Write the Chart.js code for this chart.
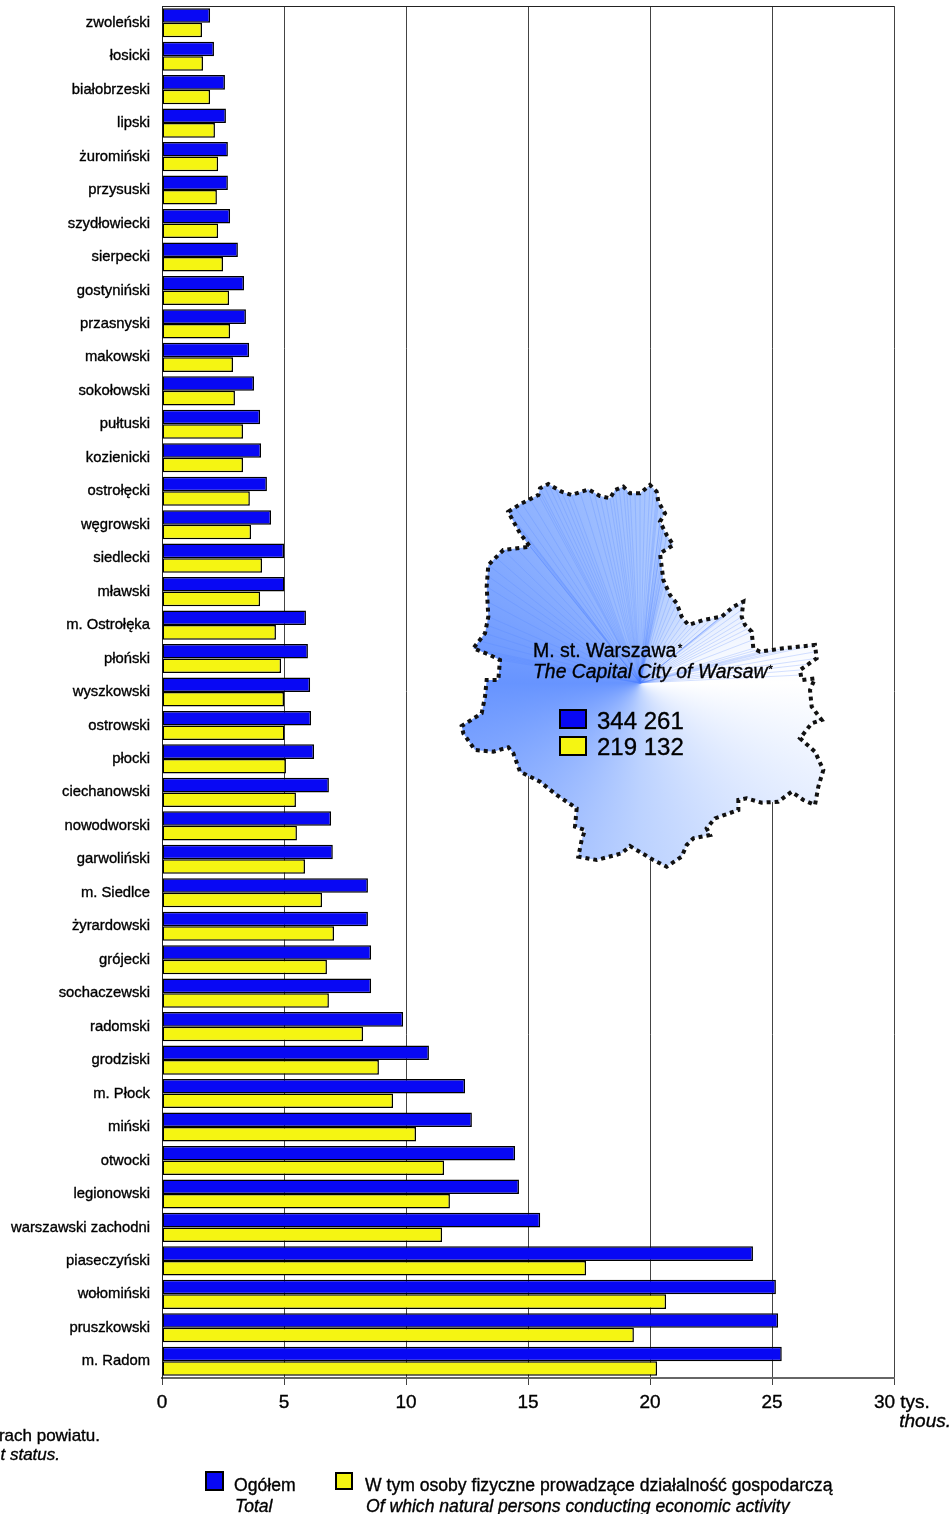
<!DOCTYPE html>
<html>
<head>
<meta charset="utf-8">
<title>Mazowieckie</title>
<script src="https://cdn.jsdelivr.net/npm/chart.js@4"></script>
<style>
html, body { margin: 0; padding: 0; background: #fff; overflow: hidden; }
canvas { display: block; }
</style>
</head>
<body>
<canvas id="chart" width="952" height="1514"></canvas>
<script>
var categories = ['zwoleński', 'łosicki', 'białobrzeski', 'lipski', 'żuromiński', 'przysuski', 'szydłowiecki', 'sierpecki', 'gostyniński', 'przasnyski', 'makowski', 'sokołowski', 'pułtuski', 'kozienicki', 'ostrołęcki', 'węgrowski', 'siedlecki', 'mławski', 'm. Ostrołęka', 'płoński', 'wyszkowski', 'ostrowski', 'płocki', 'ciechanowski', 'nowodworski', 'garwoliński', 'm. Siedlce', 'żyrardowski', 'grójecki', 'sochaczewski', 'radomski', 'grodziski', 'm. Płock', 'miński', 'otwocki', 'legionowski', 'warszawski zachodni', 'piaseczyński', 'wołomiński', 'pruszkowski', 'm. Radom'];
var ogolem = [1.97, 2.13, 2.58, 2.62, 2.70, 2.70, 2.79, 3.11, 3.36, 3.44, 3.57, 3.77, 4.02, 4.06, 4.30, 4.47, 5.00, 5.02, 5.90, 5.98, 6.07, 6.11, 6.23, 6.84, 6.93, 7.00, 8.44, 8.44, 8.57, 8.57, 9.88, 10.94, 12.42, 12.70, 14.47, 14.63, 15.50, 24.22, 25.16, 25.25, 25.40];
var osobyFizyczne = [1.64, 1.68, 1.97, 2.17, 2.30, 2.25, 2.30, 2.50, 2.75, 2.79, 2.91, 2.99, 3.32, 3.32, 3.60, 3.65, 4.10, 4.02, 4.67, 4.88, 5.00, 5.02, 5.08, 5.49, 5.53, 5.86, 6.56, 7.05, 6.76, 6.84, 8.24, 8.89, 9.47, 10.41, 11.56, 11.80, 11.48, 17.38, 20.66, 19.34, 20.29];
var xTicks = [0, 5, 10, 15, 20, 25, 30];

var BLUE = '#0808f4', YELLOW = '#f5f512', FONT = '"Liberation Sans", Arial, sans-serif';

var warsawOutline = [[175,125],[215,100],[265,75],[270,55],[295,42],[335,65],[365,75],[415,58],[450,78],[480,85],[495,60],[520,50],[540,70],[570,70],[600,45],[620,65],[625,95],[645,130],[630,155],[650,195],[670,225],[630,250],[635,290],[640,330],[660,375],[680,400],[695,440],[715,465],[760,450],[815,440],[850,410],[880,395],[875,440],[885,465],[905,485],[910,535],[930,545],[1000,535],[1095,525],[1100,565],[1050,600],[1055,630],[1095,625],[1080,660],[1085,710],[1115,750],[1085,760],[1050,805],[1095,845],[1120,900],[1105,950],[1095,1005],[1060,990],[1025,965],[985,995],[935,998],[890,985],[865,990],[865,1020],[795,1045],[770,1075],[780,1095],[730,1105],[710,1125],[695,1160],[650,1190],[610,1170],[540,1128],[515,1150],[440,1170],[385,1160],[395,1110],[405,1080],[375,1070],[380,1015],[320,975],[270,935],[210,905],[190,850],[175,832],[130,845],[75,840],[40,790],[35,768],[95,730],[105,680],[110,630],[145,630],[150,570],[120,555],[70,535],[105,490],[115,440],[110,350],[115,285],[160,240],[240,230],[210,190],[185,145]];

function txt(ctx, s, x, y, size, italic, align) {
  ctx.font = (italic ? 'italic ' : '') + size + 'px ' + FONT;
  ctx.textAlign = align || 'left';
  ctx.textBaseline = 'alphabetic';
  ctx.fillStyle = '#000';
  ctx.strokeStyle = '#000';
  ctx.lineWidth = 0.35;
  ctx.fillText(s, x, y);
  ctx.strokeText(s, x, y);
}

function swatch(ctx, color, x, y, w, h) {
  ctx.fillStyle = color;
  ctx.fillRect(x, y, w, h);
  ctx.strokeStyle = '#000';
  ctx.lineWidth = 2;
  ctx.strokeRect(x, y, w, h);
}

function drawWarsaw(ctx) {
  var cx = 640, cy = 683, i;
  var pts = warsawOutline.map(function(p) { return [450 + p[0] / 3, 470 + p[1] / 3]; });
  var shape = new Path2D();
  for (i = 0; i < pts.length; i++) {
    if (i === 0) shape.moveTo(pts[i][0], pts[i][1]); else shape.lineTo(pts[i][0], pts[i][1]);
  }
  shape.closePath();

  ctx.save();
  ctx.clip(shape);
  var g = ctx.createConicGradient(0, cx, cy);
  g.addColorStop(0, '#ffffff');
  g.addColorStop(0.25, '#bcd2ff');
  g.addColorStop(0.5, '#6794ff');
  g.addColorStop(0.75, '#a6c4ff');
  g.addColorStop(0.92, '#f0f5ff');
  g.addColorStop(1, '#ffffff');
  ctx.fillStyle = g;
  ctx.fillRect(440, 470, 400, 410);
  // thin rays in the upper half, left over from the gradient steps of the original
  ctx.lineWidth = 0.8;
  for (i = 0; i < pts.length; i++) {
    if (pts[i][1] > cy - 12) continue;
    var next = pts[(i + 1) % pts.length];
    ctx.strokeStyle = 'rgba(80,130,255,0.3)';
    ctx.beginPath();
    ctx.moveTo(cx, cy);
    ctx.lineTo(pts[i][0], pts[i][1]);
    ctx.moveTo(cx, cy);
    ctx.lineTo((pts[i][0] + next[0]) / 2, (pts[i][1] + next[1]) / 2);
    ctx.stroke();
  }
  ctx.restore();

  ctx.save();
  ctx.setLineDash([4, 4]);
  ctx.lineWidth = 4;
  ctx.strokeStyle = '#111';
  ctx.stroke(shape);
  ctx.restore();

  txt(ctx, 'M. st. Warszawa', 533, 657, 19.5);
  txt(ctx, '*', 678, 652, 11);
  txt(ctx, 'The Capital City of Warsaw', 533, 678, 19.4, true);
  txt(ctx, '*', 768, 673, 11, true);
  swatch(ctx, BLUE, 560, 710, 26, 18);
  swatch(ctx, YELLOW, 560, 737, 26, 18);
  txt(ctx, '344 261', 597, 729, 24);
  txt(ctx, '219 132', 597, 755, 24);
}

var overlayPlugin = {
  id: 'overlay',
  beforeDatasetsDraw: function(chart) {
    var ctx = chart.ctx, a = chart.chartArea;
    ctx.save();
    ctx.strokeStyle = '#222';
    ctx.lineWidth = 1;
    ctx.beginPath();
    ctx.moveTo(a.left, a.top + 0.5);
    ctx.lineTo(a.right, a.top + 0.5);
    ctx.stroke();
    ctx.restore();
  },
  afterDraw: function(chart) {
    var ctx = chart.ctx;
    ctx.save();
    drawWarsaw(ctx);
    txt(ctx, 'thous.', 951, 1427, 19, true, 'right');
    txt(ctx, 'rach powiatu.', 100, 1441, 17, false, 'right');
    txt(ctx, 't status.', 60, 1460, 17, true, 'right');
    swatch(ctx, BLUE, 206, 1472, 17, 18);
    txt(ctx, 'Ogółem', 234, 1491, 17.6);
    txt(ctx, 'Total', 235, 1512, 17.6, true);
    swatch(ctx, YELLOW, 336, 1473, 16, 16);
    txt(ctx, 'W tym osoby fizyczne prowadzące działalność gospodarczą', 365, 1491, 17.6);
    txt(ctx, 'Of which natural persons conducting economic activity', 366, 1512, 17.6, true);
    ctx.restore();
  }
};

new Chart(document.getElementById('chart').getContext('2d'), {
  type: 'bar',
  data: {
    labels: categories,
    datasets: [
      { label: 'Ogółem', data: ogolem, backgroundColor: BLUE, borderColor: '#000', borderWidth: 1.5, borderSkipped: false },
      { label: 'W tym osoby fizyczne prowadzące działalność gospodarczą', data: osobyFizyczne, backgroundColor: YELLOW, borderColor: '#000', borderWidth: 1.5, borderSkipped: false }
    ]
  },
  options: {
    indexAxis: 'y',
    responsive: false,
    animation: false,
    layout: { autoPadding: false, padding: { top: 6, right: 58, bottom: 0, left: 0 } },
    plugins: { legend: { display: false }, tooltip: { enabled: false } },
    datasets: { bar: { categoryPercentage: 0.87, barPercentage: 1 } },
    scales: {
      x: {
        type: 'linear', min: 0, max: 30,
        afterFit: function(s) { s.height = 136; s.paddingLeft = 0; s.paddingRight = 0; },
        afterBuildTicks: function(s) { s.ticks = xTicks.map(function(v) { return { value: v }; }); },
        grid: { color: '#444', lineWidth: 1, tickLength: 7, drawOnChartArea: true },
        border: { color: '#666', width: 2 },
        ticks: {
          maxRotation: 0, padding: 6, color: '#000', textStrokeColor: '#000', textStrokeWidth: 0.35,
          font: { family: FONT, size: 19 },
          callback: function(v) { return v === 30 ? '   30 tys.' : v; }
        }
      },
      y: {
        // the tick padding would otherwise push the plot area down by 13px
        afterFit: function(s) { s.width = 162; s.paddingTop = 0; s.paddingBottom = 0; },
        grid: { display: false, drawTicks: false },
        border: { color: '#222', width: 1 },
        ticks: { padding: 12, color: '#000', autoSkip: false, textStrokeColor: '#000', textStrokeWidth: 0.35, font: { family: FONT, size: 14.8 } }
      }
    }
  },
  plugins: [overlayPlugin]
});
</script>
</body>
</html>
